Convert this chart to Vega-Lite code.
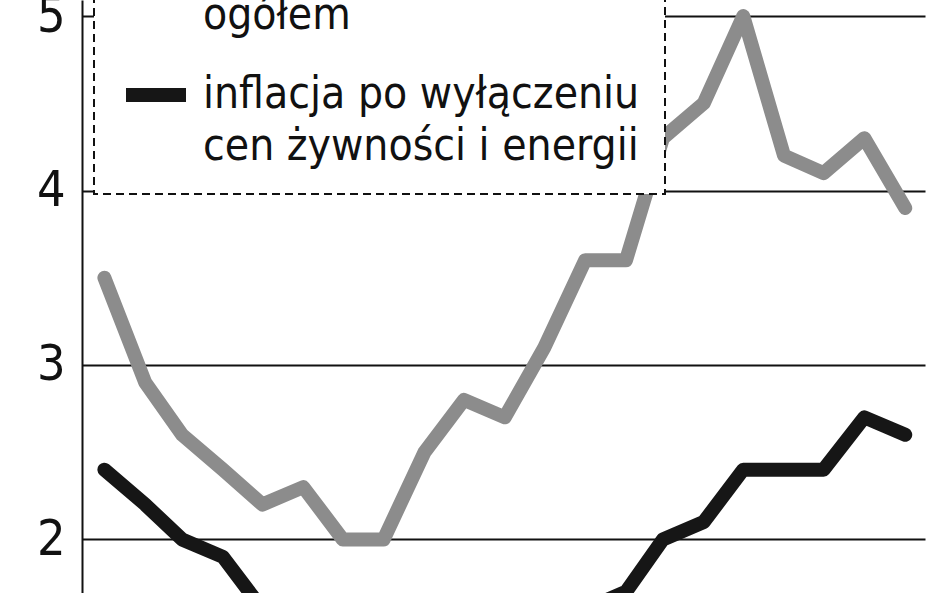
{
  "$schema": "https://vega.github.io/schema/vega-lite/v6.json",
  "width": 843,
  "height": 593,
  "autosize": {"type": "none"},
  "padding": {"left": 82, "top": 0, "right": 23, "bottom": 0},
  "background": "white",
  "config": {
    "view": {"stroke": null},
    "font": "DejaVu Sans Condensed, Lato, sans-serif",
    "style": {"guide-label": {"lineHeight": 52}},
    "legend": {"strokeDash": [8, 5], "strokeWidth": 2, "strokeColor": "#111111", "fillColor": "white"}
  },
  "data": {
    "values": [
      {"miesiac": "2010-01-01", "seria": "inflacja ogółem", "wartosc": 3.5},
      {"miesiac": "2010-02-01", "seria": "inflacja ogółem", "wartosc": 2.9},
      {"miesiac": "2010-03-01", "seria": "inflacja ogółem", "wartosc": 2.6},
      {"miesiac": "2010-04-01", "seria": "inflacja ogółem", "wartosc": 2.4},
      {"miesiac": "2010-05-01", "seria": "inflacja ogółem", "wartosc": 2.2},
      {"miesiac": "2010-06-01", "seria": "inflacja ogółem", "wartosc": 2.3},
      {"miesiac": "2010-07-01", "seria": "inflacja ogółem", "wartosc": 2.0},
      {"miesiac": "2010-08-01", "seria": "inflacja ogółem", "wartosc": 2.0},
      {"miesiac": "2010-09-01", "seria": "inflacja ogółem", "wartosc": 2.5},
      {"miesiac": "2010-10-01", "seria": "inflacja ogółem", "wartosc": 2.8},
      {"miesiac": "2010-11-01", "seria": "inflacja ogółem", "wartosc": 2.7},
      {"miesiac": "2010-12-01", "seria": "inflacja ogółem", "wartosc": 3.1},
      {"miesiac": "2011-01-01", "seria": "inflacja ogółem", "wartosc": 3.6},
      {"miesiac": "2011-02-01", "seria": "inflacja ogółem", "wartosc": 3.6},
      {"miesiac": "2011-03-01", "seria": "inflacja ogółem", "wartosc": 4.3},
      {"miesiac": "2011-04-01", "seria": "inflacja ogółem", "wartosc": 4.5},
      {"miesiac": "2011-05-01", "seria": "inflacja ogółem", "wartosc": 5.0},
      {"miesiac": "2011-06-01", "seria": "inflacja ogółem", "wartosc": 4.2},
      {"miesiac": "2011-07-01", "seria": "inflacja ogółem", "wartosc": 4.1},
      {"miesiac": "2011-08-01", "seria": "inflacja ogółem", "wartosc": 4.3},
      {"miesiac": "2011-09-01", "seria": "inflacja ogółem", "wartosc": 3.9},
      {"miesiac": "2010-01-01", "seria": "inflacja po wyłączeniu cen żywności i energii", "wartosc": 2.4},
      {"miesiac": "2010-02-01", "seria": "inflacja po wyłączeniu cen żywności i energii", "wartosc": 2.2},
      {"miesiac": "2010-03-01", "seria": "inflacja po wyłączeniu cen żywności i energii", "wartosc": 2.0},
      {"miesiac": "2010-04-01", "seria": "inflacja po wyłączeniu cen żywności i energii", "wartosc": 1.9},
      {"miesiac": "2010-05-01", "seria": "inflacja po wyłączeniu cen żywności i energii", "wartosc": 1.6},
      {"miesiac": "2010-06-01", "seria": "inflacja po wyłączeniu cen żywności i energii", "wartosc": 1.5},
      {"miesiac": "2010-07-01", "seria": "inflacja po wyłączeniu cen żywności i energii", "wartosc": 1.4},
      {"miesiac": "2010-08-01", "seria": "inflacja po wyłączeniu cen żywności i energii", "wartosc": 1.3},
      {"miesiac": "2010-09-01", "seria": "inflacja po wyłączeniu cen żywności i energii", "wartosc": 1.3},
      {"miesiac": "2010-10-01", "seria": "inflacja po wyłączeniu cen żywności i energii", "wartosc": 1.3},
      {"miesiac": "2010-11-01", "seria": "inflacja po wyłączeniu cen żywności i energii", "wartosc": 1.3},
      {"miesiac": "2010-12-01", "seria": "inflacja po wyłączeniu cen żywności i energii", "wartosc": 1.6},
      {"miesiac": "2011-01-01", "seria": "inflacja po wyłączeniu cen żywności i energii", "wartosc": 1.6},
      {"miesiac": "2011-02-01", "seria": "inflacja po wyłączeniu cen żywności i energii", "wartosc": 1.7},
      {"miesiac": "2011-03-01", "seria": "inflacja po wyłączeniu cen żywności i energii", "wartosc": 2.0},
      {"miesiac": "2011-04-01", "seria": "inflacja po wyłączeniu cen żywności i energii", "wartosc": 2.1},
      {"miesiac": "2011-05-01", "seria": "inflacja po wyłączeniu cen żywności i energii", "wartosc": 2.4},
      {"miesiac": "2011-06-01", "seria": "inflacja po wyłączeniu cen żywności i energii", "wartosc": 2.4},
      {"miesiac": "2011-07-01", "seria": "inflacja po wyłączeniu cen żywności i energii", "wartosc": 2.4},
      {"miesiac": "2011-08-01", "seria": "inflacja po wyłączeniu cen żywności i energii", "wartosc": 2.7},
      {"miesiac": "2011-09-01", "seria": "inflacja po wyłączeniu cen żywności i energii", "wartosc": 2.6}
    ]
  },
  "mark": {"type": "line", "strokeWidth": 14, "strokeCap": "round", "strokeJoin": "round", "clip": true},
  "encoding": {
    "x": {
      "field": "miesiac",
      "type": "temporal",
      "axis": null,
      "scale": {"domain": [{"year": 2009, "month": 12, "date": 15}, {"year": 2011, "month": 9, "date": 16}]}
    },
    "y": {
      "field": "wartosc",
      "type": "quantitative",
      "scale": {"domain": [1.693, 5.092], "nice": false, "zero": false},
      "axis": {
        "values": [2, 3, 4, 5],
        "title": null,
        "grid": true,
        "gridColor": "#111111",
        "gridWidth": 2,
        "domainColor": "#111111",
        "domainWidth": 2,
        "ticks": false,
        "labelFontSize": 50,
        "labelFont": "DejaVu Sans Condensed, Lato, sans-serif",
        "labelColor": "#111111",
        "labelPadding": 17
      }
    },
    "color": {
      "field": "seria",
      "type": "nominal",
      "scale": {
        "domain": ["inflacja ogółem", "inflacja po wyłączeniu cen żywności i energii"],
        "range": ["#8c8c8c", "#161616"]
      },
      "legend": {
        "orient": "none",
        "legendX": 12,
        "legendY": -98,
        "title": null,
        "symbolType": "stroke",
        "symbolSize": 3600,
        "symbolStrokeWidth": 14,
        "labelFontSize": 44,
        "labelFont": "DejaVu Sans Condensed, Lato, sans-serif",
        "labelColor": "#111111",
        "labelLimit": 900,
        "labelOffset": 10,
        "labelBaseline": "middle",
        "labelExpr": "datum.value == 'inflacja ogółem' ? ['inflacja', 'ogółem'] : ['inflacja po wyłączeniu', 'cen żywności i energii']",
        "padding": 25,
        "rowPadding": 20
      }
    }
  }
}
